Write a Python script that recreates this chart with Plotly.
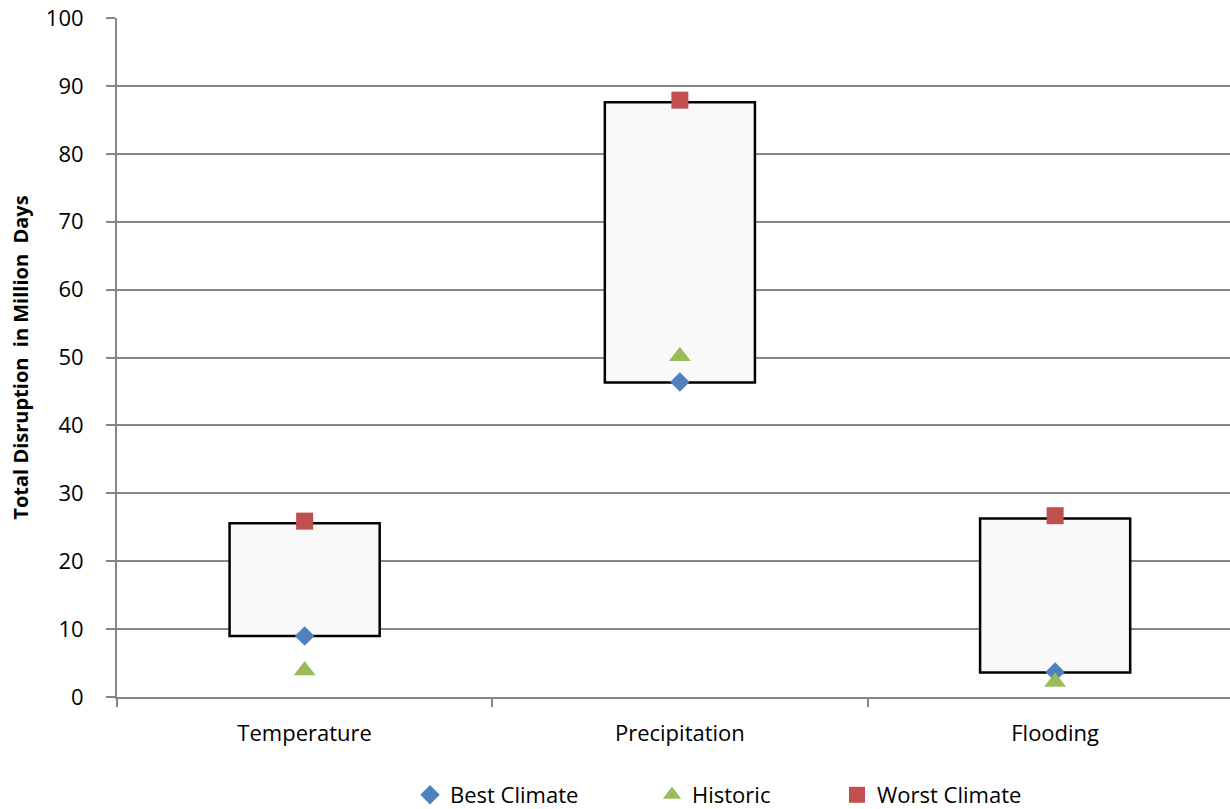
import plotly.graph_objects as go

categories = ["Temperature", "Precipitation", "Flooding"]
box_low = [9.0, 46.3, 3.6]
box_high = [25.6, 87.6, 26.3]
best_climate = [9.0, 46.4, 3.7]
historic = [3.9, 50.2, 2.2]
worst_climate = [25.9, 87.9, 26.7]

FONT = "Open Sans"
W, H = 1230, 809

fig = go.Figure()
fig.add_trace(go.Bar(
    x=categories,
    y=[h - l for h, l in zip(box_high, box_low)],
    base=box_low,
    width=0.4,
    marker=dict(color="#f9f9f9", line=dict(color="black", width=2.5)),
    showlegend=False,
    hoverinfo="skip",
))
fig.add_trace(go.Scatter(
    x=categories, y=best_climate, mode="markers", name="Best Climate", legend="legend",
    marker=dict(symbol="diamond", size=15, color="#4F81BD", line=dict(width=0)),
))
fig.add_trace(go.Scatter(
    x=categories, y=historic, mode="markers", name="Historic", legend="legend2",
    marker=dict(symbol="triangle-up", size=19, color="#9BBB59", line=dict(width=0)),
))
fig.add_trace(go.Scatter(
    x=categories, y=worst_climate, mode="markers", name="Worst Climate", legend="legend3",
    marker=dict(symbol="square", size=17, color="#C0504D", line=dict(width=0)),
))

def leg(xpx):
    return dict(orientation="h", xref="container", yref="container",
                x=xpx / W, xanchor="left", y=14 / H, yanchor="middle",
                font=dict(size=22, family=FONT), itemwidth=30,
                bgcolor="rgba(0,0,0,0)")

fig.update_layout(
    width=W, height=H,
    margin=dict(l=117, r=0, t=18, b=112, autoexpand=False),
    plot_bgcolor="white", paper_bgcolor="white",
    font=dict(family=FONT, size=22, color="black"),
    showlegend=True,
    legend=leg(410),
    legend2=leg(652),
    legend3=leg(837),
    xaxis=dict(
        type="category", range=[-0.5, 2.466],
        tickson="boundaries", ticks="outside", ticklen=8, tickcolor="#868686", tickwidth=2,
        showgrid=False, showline=True, linecolor="#868686", linewidth=2,
        ticklabelstandoff=16,
        tickfont=dict(size=22),
    ),
    yaxis=dict(
        range=[0, 100], dtick=10, ticks="outside", ticklen=9, tickcolor="#868686", tickwidth=2,
        showgrid=True, gridcolor="#868686", gridwidth=2,
        showline=True, linecolor="#868686", linewidth=2, zeroline=False,
        ticklabelstandoff=18,
        title=dict(text="Total Disruption  in Million  Days",
                   font=dict(size=20, family=FONT, weight="bold"), standoff=12),
        tickfont=dict(size=22),
    ),
)

fig.write_html("out.html")
